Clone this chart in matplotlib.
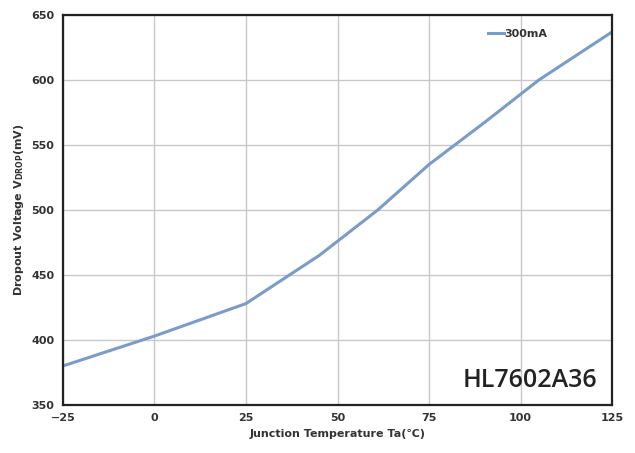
import matplotlib
matplotlib.use("Agg")
from matplotlib import pyplot as plt

# Junction temperature (C) and dropout voltage (mV) at 300mA
temps = [-25, 0, 25, 45, 61, 75, 90, 105, 125]
dropout_mv = [380, 403, 428, 465, 500, 535, 567, 600, 637]

x_ticks = [-25, 0, 25, 50, 75, 100, 125]
y_ticks = [350, 400, 450, 500, 550, 600, 650]

fig = plt.figure(figsize=(6.35, 4.53), dpi=100)
ax = fig.add_axes([0.099, 0.106, 0.865, 0.861])

ax.plot(temps, dropout_mv, color="#7b9bc8", linewidth=2.2, label="300mA")

ax.set_xlim(-25, 125)
ax.set_ylim(350, 650)
ax.set_xticks(x_ticks)
ax.set_yticks(y_ticks)
ax.grid(True, color="#c8c8c8", linewidth=1.0)
ax.tick_params(length=0, labelsize=8, pad=6)
for lbl in ax.get_xticklabels() + ax.get_yticklabels():
    lbl.set_fontweight("bold")
    lbl.set_color("#333333")
for spine in ax.spines.values():
    spine.set_linewidth(1.6)
    spine.set_color("#222222")

ax.set_xlabel("Junction Temperature Ta(\u2103)", fontsize=8, fontweight="bold",
              color="#333333", labelpad=4)
ax.set_ylabel("Dropout Voltage V$_{\\mathbf{DROP}}$(mV)", fontsize=8,
              fontweight="bold", color="#333333", labelpad=4)

leg = ax.legend(loc="upper right", frameon=False, fontsize=8, handlelength=1.5,
                handletextpad=0.0, bbox_to_anchor=(0.9, 0.99))
for t in leg.get_texts():
    t.set_fontweight("bold")
    t.set_color("#333333")

ax.text(0.973, 0.045, "HL7602A36", transform=ax.transAxes, ha="right",
        va="baseline", fontsize=18, fontweight="semibold", color="#222222",
        family="Open Sans")

fig.savefig("out.png", dpi=100)
